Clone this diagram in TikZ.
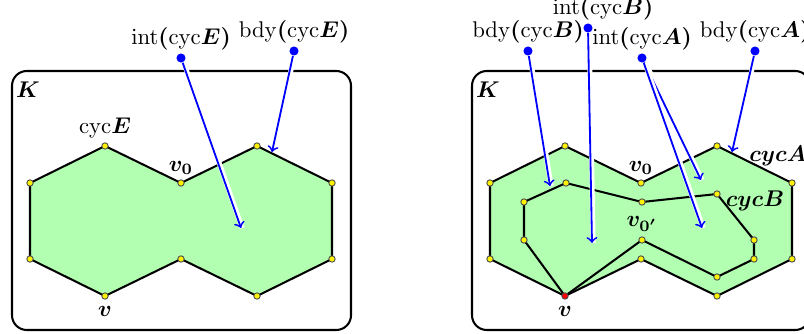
\documentclass[tikz,border=0pt]{standalone}
\usepackage{amsmath,amssymb,bm}
\usetikzlibrary{positioning}
% corners of the big hexagon pair (number/x/y, y downwards)
\newcommand{\hexpts}{1/30/183,2/105/146,3/181/183,4/257/146,5/332/183,6/332/259,7/257/296,8/181/259,9/105/296,10/30/259}
\newcommand{\cyc}[1]{\mathrm{cyc}\boldsymbol{#1}}

\begin{document}
\begin{tikzpicture}[>=to,x=0.44pt,y=-0.44pt,
  frame/.style={line width=0.9pt,rounded corners=6.5pt},
  edge/.style={line width=0.9pt},
  vdot/.style={circle,draw=black!70,fill=yellow,inner sep=0pt,minimum size=2.8pt},
  rdot/.style={vdot,fill=red},
  bdot/.style={circle,fill=blue,inner sep=0pt,minimum size=4pt},
  arr/.style={->,blue,thick,preaction={draw,-,white,line width=2.2pt,transform canvas={xshift=0.5pt}}},
  tag/.style={inner sep=1pt}]
  \useasboundingbox (0,0) rectangle (804,334);
  \begin{scope}
    % K with the cycle E
    \draw[frame] (12,71) rectangle (351,330);
    \node (lK) at (28,90) {$\boldsymbol{K}$};
    \foreach \n/\x/\y in \hexpts
      \coordinate (l\n) at (\x,\y);
    \fill[green!30] (l1) \foreach \n in {2,...,10}{ -- (l\n)} -- cycle;
    \draw[edge] (l1) \foreach \n in {2,...,10}{ -- (l\n)} -- cycle;
    \foreach \n in {1,...,10}
      \node[vdot] (ld\n) at (l\n) {};
    \node[above=0pt of l2] (lcyc) {$\cyc{E}$};
    \node[above=0pt of l3] (lv0) {$\boldsymbol{v_0}$};
    \node[below=1pt of l9] (lv) {$\boldsymbol{v}$};
    % pointers
    \coordinate (ie-end) at (241,228);
    \coordinate (be-end) at (272,152);
    \node[bdot] (ie) at (181,58) {};
    \node[bdot] (be) at (294,51) {};
    \node[tag,above=0pt of ie] (ie-t) {$\mathrm{int}\boldsymbol{(}\cyc{E}\boldsymbol{)}$};
    \node[tag,above=0pt of be] (be-t) {$\mathrm{bdy}\boldsymbol{(}\cyc{E}\boldsymbol{)}$};
    \draw[arr] (ie) -- (ie-end);
    \draw[arr] (be) -- (be-end);
  \end{scope}
  \begin{scope}[shift={(460,0)}]
    % K with the cycles A and B
    \draw[frame] (12,71) rectangle (350,330);
    \node (rK) at (28,90) {$\boldsymbol{K}$};
    \foreach \n/\x/\y in \hexpts
      \coordinate (r\n) at (\x,\y);
    \foreach \n/\x/\y in {1/64/240,2/64/202,3/106/183,4/182/202,5/257/194,6/294/240,7/294/259,8/257/277,9/182/240}
      \coordinate (b\n) at (\x,\y);
    \fill[green!30] (r1) \foreach \n in {2,...,10}{ -- (r\n)} -- cycle;
    \draw[edge] (r1) \foreach \n in {2,...,10}{ -- (r\n)} -- cycle;
    \draw[edge] (r9) \foreach \n in {1,...,9}{ -- (b\n)} -- cycle;
    \foreach \n in {1,...,8,10}
      \node[vdot] (rd\n) at (r\n) {};
    \foreach \n in {1,...,9}
      \node[vdot] (bd\n) at (b\n) {};
    \node[rdot] (rd9) at (r9) {};
    \node[above=0pt of r3] (rv0) {$\boldsymbol{v_0}$};
    \node[above=0pt of b9] (rv0p) {$\boldsymbol{v_{0'}}$};
    \node[below=1pt of r9] (rv) {$\boldsymbol{v}$};
    \node (ca) at (318,156) {$\boldsymbol{cycA}$};
    \node (cb) at (295,201) {$\boldsymbol{cycB}$};
    % pointers
    \coordinate (bb-end) at (90,186);
    \coordinate (ib-end) at (132,243);
    \coordinate (ia-end1) at (241,180);
    \coordinate (ia-end2) at (242,228);
    \coordinate (ba-end) at (272,152);
    \node[bdot] (bb) at (68,51) {};
    \node[bdot] (ib) at (128,28) {};
    \node[bdot] (ia) at (182,58) {};
    \node[bdot] (ba) at (295,51) {};
    \node[tag,above=0pt of bb] (bb-t) {$\mathrm{bdy}\boldsymbol{(}\cyc{B}\boldsymbol{)}$};
    \node[tag,above=0pt of ib,xshift=6.6pt] (ib-t) {$\mathrm{int}\boldsymbol{(}\cyc{B}\boldsymbol{)}$};
    \node[tag,above=0pt of ia] (ia-t) {$\mathrm{int}\boldsymbol{(}\cyc{A}\boldsymbol{)}$};
    \node[tag,above=0pt of ba] (ba-t) {$\mathrm{bdy}\boldsymbol{(}\cyc{A}\boldsymbol{)}$};
    \draw[arr] (bb) -- (bb-end);
    \draw[arr] (ib) -- (ib-end);
    \draw[arr] (ia) -- (ia-end1);
    \draw[arr] (ia) -- (ia-end2);
    \draw[arr] (ba) -- (ba-end);
  \end{scope}
\end{tikzpicture}
\end{document}
